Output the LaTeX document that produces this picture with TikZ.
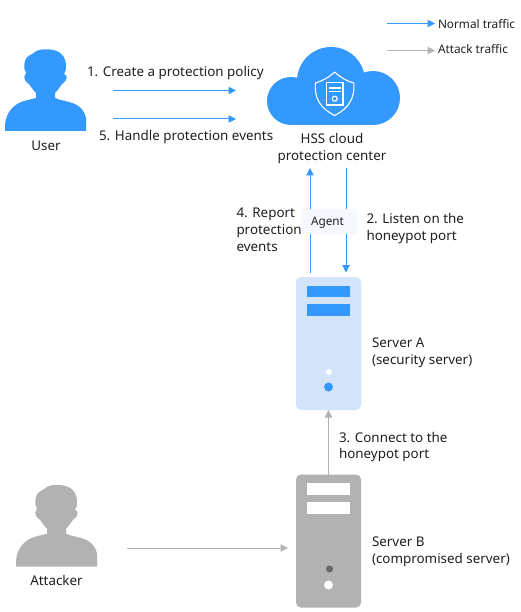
\documentclass[tikz,border=0pt]{standalone}
\usepackage{fontspec}
\setmainfont{Noto Sans}
\usetikzlibrary{arrows.meta}
\definecolor{hwblue}{HTML}{3399FF}
\definecolor{hwgray}{HTML}{B2B2B2}
\definecolor{hwtext}{HTML}{1F1F1F}
\definecolor{serverpale}{HTML}{D3E4FA}
\definecolor{agentpale}{HTML}{F5F8FF}
\tikzset{
  lbl/.style={anchor=base west,inner sep=0pt,outer sep=0pt,yshift=-0.8pt,text=hwtext,font=\fontsize{13.4}{15}\selectfont},
  clbl/.style={lbl,anchor=base},
  small/.style={font=\fontsize{11.8}{13}\selectfont},
  flow/.style={draw=hwblue,line width=1pt,-{Triangle[length=7.5pt,width=7.5pt]}},
  attack/.style={draw=hwgray,line width=1pt,-{Triangle[length=7.5pt,width=7.5pt]}},
  serverbox/.style={rectangle,rounded corners=5pt,minimum width=65pt,minimum height=133pt,inner sep=0pt,outer sep=0pt},
  person/.pic={
    \fill[pic actions] (5,131) -- (5,125) .. controls (6,112) and (14,104) .. (24,101)
      -- (36,98) -- (36,93) .. controls (33,90) and (31,87) .. (29,84)
      .. controls (26,82) and (24,80) .. (24.3,77) .. controls (24.5,75) and (25,74) .. (26,72.7)
      .. controls (24.5,70) and (24,68) .. (24.3,65) .. controls (24.5,59) and (27,56) .. (33,53.5)
      .. controls (36,50.5) and (40,49.3) .. (45,49.3) .. controls (49,49.3) and (53,49.5) .. (56.7,51)
      .. controls (62,53) and (66,58) .. (66,66) .. controls (66,70) and (65.5,72) .. (64,74)
      .. controls (66,75) and (67,76) .. (66.7,77.5) .. controls (66.5,80) and (65,82) .. (62,84)
      .. controls (60,87) and (58,90) .. (55,93) -- (55,98)
      .. controls (60,100.5) and (68,101) .. (75,104) .. controls (81,107) and (85,112) .. (86,118)
      -- (86,131) -- cycle;
  }
}
\begin{document}
\begin{tikzpicture}[x=1pt,y=-1pt]
\useasboundingbox (0,0) rectangle (520,612);
% people
\pic[fill=hwblue] {person};
\pic[fill=hwgray] at (11,435.7) {person};
% cloud
\fill[hwblue] (331,81) circle (34);
\fill[hwblue] (291,101) circle (24);
\fill[hwblue] (373,98) circle (27);
\fill[hwblue] (291,90) rectangle (373,125);
\begin{scope}[draw=white,line width=1.1pt]
  \draw[line join=round] (334.7,72) .. controls (328,78) and (322,81) .. (315.5,83)
    .. controls (314,98) and (320,108) .. (334.7,115.5)
    .. controls (349,108) and (355,98) .. (353.8,83)
    .. controls (347,81) and (341,78) .. (334.7,72) -- cycle;
  \draw (326.3,82.5) rectangle (343,105);
  \draw (329,88) -- (340.5,88) (329,91.5) -- (340.5,91.5);
  \draw (334.7,98.7) circle (2.5);
\end{scope}
% servers
\node[serverbox,fill=serverpale] (serverA) at (328.5,343.5) {};
\fill[hwblue] (307,286) rectangle (350,297);
\fill[hwblue] (307,304) rectangle (350,316);
\fill[white] (329,372) circle (3);
\fill[hwblue] (328.5,387) circle (4.5);
\node[serverbox,fill=hwgray] (serverB) at (328.5,541) {};
\fill[white] (307,483) rectangle (350,495);
\fill[white] (307,502) rectangle (350,514);
\fill[black!60] (329.5,569) circle (3.5);
\fill[white] (328.5,585) circle (4.5);
% connector ends
\coordinate (p1s) at (113,90.5); \coordinate (p1e) at (236,90.5);
\coordinate (p5s) at (113,119); \coordinate (p5e) at (236,119);
\coordinate (p4s) at (310,272.5); \coordinate (p4e) at (310,168);
\coordinate (p2s) at (346,168); \coordinate (p2e) at (346,272.5);
\coordinate (atks) at (127,548); \coordinate (atke) at (288,548);
\coordinate (ln1) at (387,23.5); \coordinate (ln2) at (435,23.5);
\coordinate (la1) at (387,50.5); \coordinate (la2) at (435,50.5);
\draw[flow] (p1s) -- (p1e);
\draw[flow] (p5s) -- (p5e);
\draw[flow] (p4s) -- (p4e);
\draw[flow] (p2s) -- (p2e);
\draw[attack] (serverB.north) -- (serverA.south);
\draw[attack] (atks) -- (atke);
\draw[flow] (ln1) -- (ln2);
\draw[attack] (la1) -- (la2);
% agent
\node[rectangle,fill=agentpale,minimum width=55pt,minimum height=25pt,inner sep=0pt] (agentbox) at (329.5,221.5) {};
\node[clbl,small] (agent) at (327.5,225) {Agent};
% labels
\node[lbl] (t1) at (87,76) {1. Create a protection policy};
\node[lbl] (t5) at (99,140) {5. Handle protection events};
\node[clbl] (user) at (46,150) {User};
\node[clbl] (hss1) at (332,143) {HSS cloud};
\node[clbl] (hss2) at (332,160) {protection center};
\node[lbl,small] (lgn) at (438,28) {Normal traffic};
\node[lbl,small] (lga) at (438,53) {Attack traffic};
\node[lbl] (t4a) at (236.5,217) {4. Report};
\node[lbl] (t4b) at (236.5,234) {protection};
\node[lbl] (t4c) at (236.5,251) {events};
\node[lbl] (t2a) at (366.5,223) {2. Listen on the};
\node[lbl] (t2b) at (366.5,240) {honeypot port};
\node[lbl] (sa1) at (372,347) {Server A};
\node[lbl] (sa2) at (372,364) {(security server)};
\node[lbl] (t3a) at (339,442) {3. Connect to the};
\node[lbl] (t3b) at (339,458) {honeypot port};
\node[lbl] (sb1) at (372,546) {Server B};
\node[lbl] (sb2) at (372,563) {(compromised server)};
\node[clbl] (attacker) at (56.5,585) {Attacker};
\end{tikzpicture}
\end{document}
